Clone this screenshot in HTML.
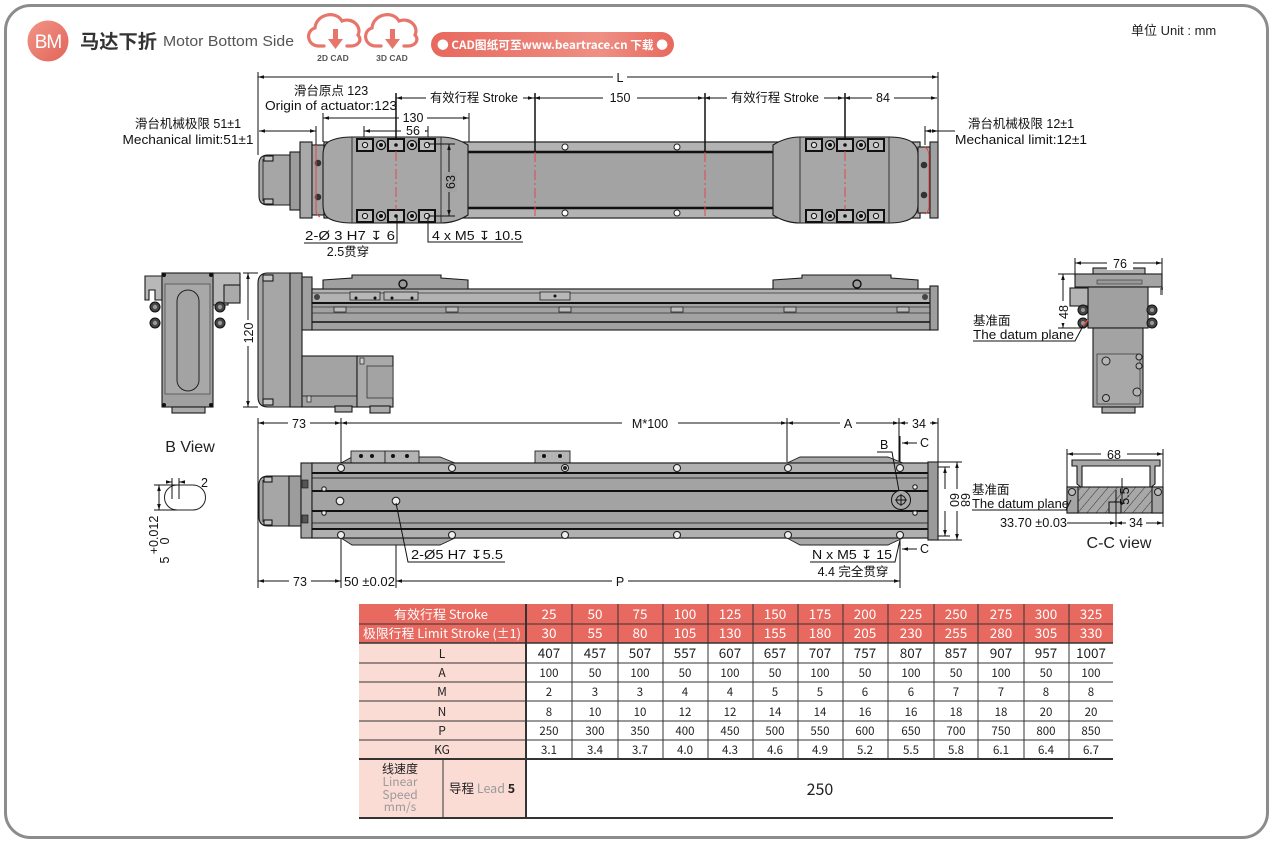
<!DOCTYPE html>
<html><head><meta charset="utf-8">
<style>
html,body{margin:0;padding:0;background:#fff;}
body{width:1274px;height:844px;overflow:hidden;}
svg{display:block}
.d{font-family:'Liberation Sans','Noto Sans CJK SC',sans-serif;font-size:12.5px;fill:#111}
.s{font-family:'Liberation Sans','Noto Sans CJK SC',sans-serif;}
.cj{font-family:'Noto Sans CJK SC','Liberation Sans',sans-serif;}
.ln{stroke:#111;stroke-width:1;fill:none}
.ol{stroke:#1a1a1a;stroke-width:1.1}
.rd{stroke:#e04848;stroke-width:1;stroke-dasharray:10 3 2 3;fill:none}
</style></head><body>
<svg width="1274" height="844" viewBox="0 0 1274 844" xmlns="http://www.w3.org/2000/svg">
<defs>
<marker id="a" viewBox="0 0 10 10" refX="10" refY="5" markerWidth="6" markerHeight="6" orient="auto-start-reverse"><path d="M0,2 L10,5 L0,8z" fill="#111"/></marker>
<linearGradient id="pg" x1="0" x2="1" y1="0" y2="0"><stop offset="0" stop-color="#e8685d"/><stop offset=".7" stop-color="#ee8f84"/><stop offset="1" stop-color="#e8685d"/></linearGradient>
<linearGradient id="bg" x1="0" x2="1" y1="0" y2="1"><stop offset="0" stop-color="#f29488"/><stop offset="1" stop-color="#e2655a"/></linearGradient>
<pattern id="h" width="7" height="7" patternUnits="userSpaceOnUse" patternTransform="rotate(40)"><rect width="7" height="7" fill="#a8a8a8"/><line x1="0" y1="0" x2="0" y2="7" stroke="#333" stroke-width="1"/></pattern>
</defs>

<!-- frame -->
<rect x="5.5" y="5.5" width="1262" height="832" rx="25" fill="#fff" stroke="#8c8c8c" stroke-width="3"/>

<!-- header -->
<circle cx="48" cy="41" r="20.5" fill="url(#bg)"/>
<text x="48" y="48" text-anchor="middle" class="s" font-size="19" fill="#fff" letter-spacing="-1">BM</text>
<text x="80" y="48" class="cj" font-size="19" font-weight="bold" fill="#333" textLength="77" lengthAdjust="spacingAndGlyphs">马达下折</text>
<text x="163" y="46" class="s" font-size="14.5" fill="#555" textLength="131" lengthAdjust="spacingAndGlyphs">Motor Bottom Side</text>
<g fill="none" stroke="#e8756b" stroke-width="3.2" stroke-linecap="round">
<path d="M324,46 H319 C307,46 305,31 315,28 C316,14 336,10 342,21 C353,17 362,27 358,35 C363,41 357,46 351,46 H347"/>
<path d="M381,46 H376 C364,46 362,31 372,28 C373,14 393,10 399,21 C410,17 419,27 415,35 C420,41 414,46 408,46 H404"/>
</g>
<g fill="#e8756b">
<rect x="333" y="29" width="5" height="11"/><path d="M328,39 H343 L335.5,49z"/>
<rect x="390" y="29" width="5" height="11"/><path d="M385,39 H400 L392.5,49z"/>
</g>
<text x="333" y="61" text-anchor="middle" class="s" font-size="8.5" font-weight="bold" fill="#555">2D CAD</text>
<text x="392" y="61" text-anchor="middle" class="s" font-size="8.5" font-weight="bold" fill="#555">3D CAD</text>
<rect x="431" y="32" width="243" height="25" rx="12.5" fill="url(#pg)"/>
<text x="437" y="49" class="cj" font-size="11.5" font-weight="bold" fill="#fff" textLength="231" lengthAdjust="spacingAndGlyphs">● CAD图纸可至www.beartrace.cn 下载 ●</text>
<text x="1131" y="35" class="s" font-size="13" fill="#222">单位  Unit : mm</text>

<!-- ================= TOP VIEW ================= -->
<g class="ln">
<line x1="258" y1="72" x2="258" y2="155"/>
<line x1="938" y1="72" x2="938" y2="142"/>
<line x1="258" y1="77" x2="938" y2="77" marker-start="url(#a)" marker-end="url(#a)"/>
<line x1="396" y1="98" x2="534" y2="98" marker-start="url(#a)" marker-end="url(#a)"/>
<line x1="534" y1="98" x2="704" y2="98" marker-start="url(#a)" marker-end="url(#a)"/>
<line x1="704" y1="98" x2="844" y2="98" marker-start="url(#a)" marker-end="url(#a)"/>
<line x1="844" y1="98" x2="937" y2="98" marker-start="url(#a)" marker-end="url(#a)"/>
<line x1="323" y1="118" x2="469" y2="118" marker-start="url(#a)" marker-end="url(#a)"/>
<line x1="364" y1="131" x2="428" y2="131" marker-start="url(#a)" marker-end="url(#a)"/>
<line x1="259" y1="131" x2="316" y2="131" marker-start="url(#a)" marker-end="url(#a)"/>
<line x1="925" y1="131" x2="938" y2="131" marker-start="url(#a)" marker-end="url(#a)"/>
<line x1="938" y1="131" x2="955" y2="131"/>
<line x1="323" y1="113" x2="323" y2="142"/>
<line x1="469" y1="113" x2="469" y2="143"/>
<line x1="364" y1="126" x2="364" y2="140"/>
<line x1="428" y1="126" x2="428" y2="140"/>
<line x1="316" y1="126" x2="316" y2="145"/>
<line x1="925" y1="126" x2="925" y2="145"/>
</g>
<rect x="613" y="70" width="14" height="14" fill="#fff"/><text x="620" y="82" text-anchor="middle" class="d">L</text>
<rect x="426" y="91" width="97" height="14" fill="#fff"/><text x="474" y="102" text-anchor="middle" class="d" textLength="88" lengthAdjust="spacingAndGlyphs">有效行程 Stroke</text>
<rect x="603" y="91" width="34" height="14" fill="#fff"/><text x="620" y="102" text-anchor="middle" class="d">150</text>
<rect x="727" y="91" width="97" height="14" fill="#fff"/><text x="775" y="102" text-anchor="middle" class="d" textLength="88" lengthAdjust="spacingAndGlyphs">有效行程 Stroke</text>
<rect x="872" y="91" width="22" height="14" fill="#fff"/><text x="883" y="102" text-anchor="middle" class="d">84</text>
<rect x="399" y="111" width="28" height="14" fill="#fff"/><text x="413" y="122" text-anchor="middle" class="d">130</text>
<rect x="401" y="124" width="24" height="14" fill="#fff"/><text x="413" y="135" text-anchor="middle" class="d">56</text>
<text x="331" y="95" text-anchor="middle" class="d">滑台原点 123</text>
<text x="265" y="110" class="d" textLength="132" lengthAdjust="spacingAndGlyphs">Origin of actuator:123</text>
<text x="188" y="128" text-anchor="middle" class="d">滑台机械极限 51±1</text>
<text x="188" y="144" text-anchor="middle" class="d" textLength="131" lengthAdjust="spacingAndGlyphs">Mechanical limit:51±1</text>
<text x="1021" y="128" text-anchor="middle" class="d">滑台机械极限 12±1</text>
<text x="1021" y="144" text-anchor="middle" class="d" textLength="132" lengthAdjust="spacingAndGlyphs">Mechanical limit:12±1</text>

<!-- body -->
<path d="M268,155 H290 V205 H268 Q259,205 259,196 V164 Q259,155 268,155Z" fill="#a6a6a6" class="ol"/>
<path d="M263,159 V201" stroke="#333" fill="none"/>
<rect x="264" y="156" width="9" height="5" fill="#c4c4c4" class="ol" stroke-width=".8"/>
<rect x="264" y="199" width="9" height="5" fill="#c4c4c4" class="ol" stroke-width=".8"/>
<rect x="290" y="152" width="10" height="58" fill="#9c9c9c" class="ol"/>
<rect x="300" y="142" width="12" height="76" fill="#a9a9a9" class="ol"/>
<rect x="312" y="145" width="12" height="70" fill="#a2a2a2" class="ol"/>
<circle cx="318" cy="163" r="3.3" fill="#333"/><circle cx="318" cy="197" r="3.3" fill="#333"/>
<path d="M316,145 V210 Q316,215 320,217" stroke="#e04848" fill="none"/>
<rect x="324" y="142" width="596" height="76" fill="#a3a3a3" class="ol"/>
<rect x="324" y="142" width="596" height="10" fill="#b3b3b3" class="ol"/>
<rect x="324" y="208" width="596" height="10" fill="#b3b3b3" class="ol"/>
<line x1="324" y1="152" x2="920" y2="152" stroke="#111" stroke-width="2.5"/>
<line x1="324" y1="208" x2="920" y2="208" stroke="#111" stroke-width="2.5"/>
<g fill="#fff" stroke="#222">
<circle cx="565" cy="147" r="3"/><circle cx="677" cy="147" r="3"/>
<circle cx="565" cy="213" r="3"/><circle cx="677" cy="213" r="3"/>
</g>
<rect x="918" y="147" width="12" height="66" fill="#a8a8a8" class="ol"/>
<rect x="930" y="142" width="8" height="76" fill="#a0a0a0" class="ol"/>
<circle cx="924" cy="165" r="3.3" fill="#333"/><circle cx="924" cy="195" r="3.3" fill="#333"/>
<path d="M925,147 Q929,150 929,156 V206 Q929,212 925,214" stroke="#e04848" fill="none"/>
<path d="M352,137 H441 C452,137 460,140 468,145 V215 C460,220 452,223 441,223 H352 C342,223 330,221 326,216 Q323,212 323,205 V155 Q323,148 326,144 C330,139 342,137 352,137Z" fill="#a7a7a7" class="ol"/>
<line x1="352" y1="137" x2="352" y2="223" stroke="#333"/>
<line x1="441" y1="137" x2="441" y2="223" stroke="#333"/>
<path d="M800,137 H889 C899,137 910,139 914,144 Q918,148 918,155 V205 Q918,212 914,216 C910,221 899,223 889,223 H800 C789,223 781,220 773,215 V145 C781,140 789,137 800,137Z" fill="#a7a7a7" class="ol"/>
<line x1="800" y1="137" x2="800" y2="223" stroke="#333"/>
<line x1="889" y1="137" x2="889" y2="223" stroke="#333"/>
<g fill="#bdbdbd" stroke="#111" stroke-width="2">
<rect x="357" y="139" width="16" height="12"/><rect x="388" y="139" width="16" height="12"/><rect x="419" y="139" width="16" height="12"/>
<rect x="357" y="210" width="16" height="12"/><rect x="388" y="210" width="16" height="12"/><rect x="419" y="210" width="16" height="12"/>
<rect x="806" y="139" width="16" height="12"/><rect x="837" y="139" width="16" height="12"/><rect x="868" y="139" width="16" height="12"/>
<rect x="806" y="210" width="16" height="12"/><rect x="837" y="210" width="16" height="12"/><rect x="868" y="210" width="16" height="12"/>
</g>
<g fill="#ddd" stroke="#111">
<circle cx="365" cy="145" r="2.6"/><circle cx="427" cy="145" r="2.6"/><circle cx="365" cy="216" r="2.6"/><circle cx="427" cy="216" r="2.6"/>
<circle cx="814" cy="145" r="2.6"/><circle cx="876" cy="145" r="2.6"/><circle cx="814" cy="216" r="2.6"/><circle cx="876" cy="216" r="2.6"/>
</g>
<g fill="#111"><circle cx="396" cy="145" r="1.8"/><circle cx="396" cy="216" r="1.8"/><circle cx="845" cy="145" r="1.8"/><circle cx="845" cy="216" r="1.8"/></g>
<g fill="#ccc" stroke="#111" stroke-width="1.3">
<circle cx="381" cy="145" r="4.5"/><circle cx="412" cy="145" r="4.5"/><circle cx="381" cy="216" r="4.5"/><circle cx="412" cy="216" r="4.5"/>
<circle cx="830" cy="145" r="4.5"/><circle cx="861" cy="145" r="4.5"/><circle cx="830" cy="216" r="4.5"/><circle cx="861" cy="216" r="4.5"/>
</g>
<g fill="#111"><circle cx="381" cy="145" r="2"/><circle cx="412" cy="145" r="2"/><circle cx="381" cy="216" r="2"/><circle cx="412" cy="216" r="2"/>
<circle cx="830" cy="145" r="2"/><circle cx="861" cy="145" r="2"/><circle cx="830" cy="216" r="2"/><circle cx="861" cy="216" r="2"/></g>
<line x1="396" y1="151" x2="396" y2="210" class="rd"/>
<line x1="535" y1="152" x2="535" y2="218" class="rd"/>
<line x1="705" y1="152" x2="705" y2="218" class="rd"/>
<line x1="845" y1="151" x2="845" y2="210" class="rd"/>
<g stroke="#111" stroke-width="1.5">
<line x1="396" y1="93" x2="396" y2="140"/>
<line x1="535" y1="93" x2="535" y2="152"/>
<line x1="705" y1="93" x2="705" y2="152"/>
<line x1="845" y1="93" x2="845" y2="140"/>
</g>
<g class="ln">
<line x1="428" y1="144" x2="455" y2="144"/>
<line x1="428" y1="216" x2="455" y2="216"/>
<line x1="449" y1="144" x2="449" y2="216" marker-start="url(#a)" marker-end="url(#a)"/>
<polyline points="397,216 397,243 304,243"/>
<polyline points="428,217 428,242 523,242"/>
</g>
<rect x="444" y="172" width="13" height="20" fill="#a3a3a3"/>
<text transform="translate(455,182) rotate(-90)" text-anchor="middle" class="d">63</text>
<text x="305" y="240" class="d" textLength="90" lengthAdjust="spacingAndGlyphs">2-Ø 3 H7 ↧ 6</text>
<text x="348" y="256" text-anchor="middle" class="d">2.5贯穿</text>
<text x="432" y="240" class="d" textLength="90" lengthAdjust="spacingAndGlyphs">4 x  M5 ↧ 10.5</text>

<!-- ================= SIDE VIEW ================= -->
<path d="M145,276 H162 V300 H155 V290 H149 V300 H145Z" fill="#b8b8b8" class="ol"/>
<path d="M213,273 H240 V296 H234 V286 H228 V305 H213Z" fill="#b8b8b8" class="ol"/>
<rect x="224" y="285" width="16" height="18" fill="#aaa" class="ol"/>
<rect x="162" y="273" width="51" height="134" fill="#a0a0a0" class="ol"/>
<rect x="165" y="284" width="45" height="110" fill="#a8a8a8" stroke="#444" stroke-width=".7"/>
<rect x="177" y="290" width="22" height="101" rx="11" fill="#a3a3a3" stroke="#222"/>
<g fill="#444" stroke="#111"><circle cx="155" cy="307" r="5"/><circle cx="155" cy="323" r="5"/><circle cx="220" cy="307" r="5"/><circle cx="220" cy="323" r="5"/></g>
<g fill="#999"><circle cx="155" cy="307" r="2.2"/><circle cx="155" cy="323" r="2.2"/><circle cx="220" cy="307" r="2.2"/><circle cx="220" cy="323" r="2.2"/></g>
<g fill="#111"><circle cx="164" cy="275" r="2"/><circle cx="211" cy="275" r="2"/><circle cx="164" cy="405" r="2"/><circle cx="211" cy="405" r="2"/></g>
<rect x="172" y="407" width="33" height="6" fill="#aaa" class="ol"/>
<text x="190" y="452" text-anchor="middle" class="s" font-size="16" fill="#222">B View</text>

<path d="M268,273 H290 V407 H268 Q258,407 258,397 V283 Q258,273 268,273Z" fill="#a6a6a6" class="ol"/>
<path d="M263,280 V400" stroke="#333" fill="none"/>
<rect x="263" y="275" width="10" height="6" fill="#c4c4c4" class="ol" stroke-width=".8"/>
<rect x="263" y="399" width="10" height="6" fill="#c4c4c4" class="ol" stroke-width=".8"/>
<rect x="290" y="273" width="12" height="134" fill="#9c9c9c" class="ol"/>
<rect x="302" y="277" width="10" height="53" fill="#a0a0a0" class="ol"/>
<rect x="302" y="356" width="55" height="51" fill="#a3a3a3" class="ol"/>
<line x1="302" y1="396" x2="357" y2="396" stroke="#333"/>
<rect x="357" y="356" width="36" height="51" fill="#a9a9a9" class="ol"/>
<rect x="367" y="366" width="26" height="32" fill="#a3a3a3" stroke="#333" stroke-width=".8"/>
<rect x="360" y="358" width="4" height="6" fill="#ccc" stroke="#222" stroke-width=".7"/>
<rect x="307" y="396" width="4" height="6" fill="#ccc" stroke="#222" stroke-width=".7"/>
<rect x="335" y="406" width="17" height="6" fill="#aaa" class="ol"/>
<rect x="370" y="406" width="20" height="7" fill="#aaa" class="ol"/>
<g class="ln">
<line x1="243" y1="273" x2="258" y2="273"/><line x1="243" y1="407" x2="258" y2="407"/>
<line x1="248" y1="273" x2="248" y2="407" marker-start="url(#a)" marker-end="url(#a)"/>
</g>
<rect x="242" y="320" width="12" height="26" fill="#fff"/>
<text transform="translate(253,333) rotate(-90)" text-anchor="middle" class="d">120</text>

<rect x="312" y="289" width="618" height="41" fill="#a2a2a2" class="ol"/>
<rect x="312" y="289" width="618" height="14" fill="#b2b2b2" class="ol"/>
<line x1="312" y1="293" x2="930" y2="293" stroke="#333" stroke-width=".8"/>
<line x1="312" y1="303" x2="930" y2="303" stroke="#111" stroke-width="2"/>
<line x1="312" y1="307" x2="930" y2="307" stroke="#333" stroke-width=".8"/>
<line x1="312" y1="313" x2="930" y2="313" stroke="#333" stroke-width=".8"/>
<line x1="312" y1="322" x2="930" y2="322" stroke="#111" stroke-width="1.6"/>
<g fill="#bcbcbc" stroke="#222" stroke-width=".8">
<rect x="334" y="307" width="12" height="5"/><rect x="446" y="307" width="12" height="5"/><rect x="559" y="307" width="12" height="5"/>
<rect x="671" y="307" width="12" height="5"/><rect x="784" y="307" width="12" height="5"/><rect x="897" y="307" width="12" height="5"/>
</g>
<rect x="930" y="286" width="8" height="44" fill="#9e9e9e" class="ol"/>
<circle cx="925" cy="297" r="3" fill="#444"/>
<circle cx="317" cy="297" r="3" fill="#444"/>
<path d="M323,289 V280 L352,278 V275 H441 V278 L468,280 V289Z" fill="#a0a0a0" class="ol"/>
<path d="M773,289 V280 L802,278 V275 H891 V278 L918,280 V289Z" fill="#a0a0a0" class="ol"/>
<circle cx="403" cy="284" r="4" fill="#999" stroke="#111" stroke-width="1.4"/>
<circle cx="857" cy="284" r="4" fill="#999" stroke="#111" stroke-width="1.4"/>
<g fill="#b8b8b8" stroke="#222" stroke-width=".8">
<rect x="350" y="292" width="30" height="8"/><rect x="384" y="292" width="34" height="8"/>
<rect x="540" y="292" width="30" height="8"/>
</g>
<g fill="#111"><circle cx="356" cy="298" r="1.5"/><circle cx="375" cy="298" r="1.5"/><circle cx="392" cy="298" r="1.5"/><circle cx="412" cy="298" r="1.5"/><circle cx="555" cy="296" r="1.5"/></g>

<!-- right end view -->
<rect x="1093" y="268" width="52" height="6" fill="#b0b0b0" class="ol"/>
<rect x="1075" y="274" width="87" height="13" fill="#a4a4a4" class="ol"/>
<rect x="1097" y="280" width="45" height="4" fill="#999" stroke="#333" stroke-width=".6"/>
<rect x="1088" y="287" width="60" height="41" fill="#a0a0a0" class="ol"/>
<rect x="1070" y="288" width="18" height="18" fill="#b4b4b4" class="ol"/>
<rect x="1160" y="287" width="3" height="8" fill="#888"/>
<g fill="#444" stroke="#111"><circle cx="1083" cy="310" r="5"/><circle cx="1083" cy="323" r="5"/><circle cx="1152" cy="310" r="5"/><circle cx="1152" cy="323" r="5"/></g>
<g fill="#999"><circle cx="1083" cy="310" r="2"/><circle cx="1083" cy="323" r="2"/><circle cx="1152" cy="310" r="2"/><circle cx="1152" cy="323" r="2"/></g>
<rect x="1093" y="328" width="50" height="79" fill="#a3a3a3" class="ol"/>
<rect x="1097" y="354" width="43" height="50" fill="#a8a8a8" stroke="#333" stroke-width=".7"/>
<g fill="#b5b5b5" stroke="#222"><circle cx="1106" cy="361" r="4"/><circle cx="1139" cy="357" r="3"/><circle cx="1139" cy="366" r="3"/><circle cx="1106" cy="398" r="3.5"/><circle cx="1137" cy="392" r="4"/></g>
<rect x="1102" y="407" width="33" height="6" fill="#aaa" class="ol"/>
<g class="ln">
<line x1="1075" y1="258" x2="1075" y2="277"/><line x1="1162" y1="258" x2="1162" y2="290"/>
<line x1="1075" y1="263" x2="1162" y2="263" marker-start="url(#a)" marker-end="url(#a)"/>
<line x1="1058" y1="274" x2="1075" y2="274"/><line x1="1058" y1="328" x2="1085" y2="328"/>
<line x1="1063" y1="274" x2="1063" y2="328" marker-start="url(#a)" marker-end="url(#a)"/>
<polyline points="973,341 1075,341 1083,326"/>
</g>
<rect x="1107" y="256" width="26" height="14" fill="#fff"/><text x="1120" y="268" text-anchor="middle" class="d">76</text>
<rect x="1057" y="301" width="12" height="22" fill="#fff"/>
<text transform="translate(1068,312) rotate(-90)" text-anchor="middle" class="d">48</text>
<line x1="1083" y1="326" x2="1088" y2="320" stroke="#e04848" stroke-width="1.5"/>
<text x="973" y="325" class="d">基准面</text>
<text x="973" y="339" class="d" textLength="101" lengthAdjust="spacingAndGlyphs">The datum plane</text>

<!-- ================= BOTTOM VIEW ================= -->
<g class="ln">
<line x1="258" y1="418" x2="258" y2="588"/>
<line x1="341" y1="418" x2="341" y2="470"/>
<line x1="787" y1="418" x2="787" y2="462"/>
<line x1="899" y1="418" x2="899" y2="470"/>
<line x1="938" y1="418" x2="938" y2="462"/>
<line x1="258" y1="423" x2="341" y2="423" marker-start="url(#a)" marker-end="url(#a)"/>
<line x1="341" y1="423" x2="787" y2="423" marker-start="url(#a)" marker-end="url(#a)"/>
<line x1="787" y1="423" x2="899" y2="423" marker-start="url(#a)" marker-end="url(#a)"/>
<line x1="899" y1="423" x2="938" y2="423" marker-start="url(#a)" marker-end="url(#a)"/>
<line x1="341" y1="538" x2="341" y2="588"/>
<line x1="396" y1="501" x2="396" y2="588"/>
<line x1="900" y1="540" x2="900" y2="588"/>
<line x1="258" y1="581" x2="341" y2="581" marker-start="url(#a)" marker-end="url(#a)"/>
<line x1="396" y1="581" x2="900" y2="581" marker-start="url(#a)" marker-end="url(#a)"/>
</g>
<rect x="288" y="416" width="22" height="14" fill="#fff"/><text x="299" y="428" text-anchor="middle" class="d">73</text>
<rect x="622" y="416" width="56" height="14" fill="#fff"/><text x="650" y="428" text-anchor="middle" class="d">M*100</text>
<rect x="840" y="416" width="16" height="14" fill="#fff"/><text x="848" y="428" text-anchor="middle" class="d">A</text>
<rect x="908" y="416" width="22" height="14" fill="#fff"/><text x="919" y="428" text-anchor="middle" class="d">34</text>
<rect x="289" y="574" width="22" height="14" fill="#fff"/><text x="300" y="586" text-anchor="middle" class="d">73</text>
<text x="344" y="586" class="d" textLength="51" lengthAdjust="spacingAndGlyphs">50 ±0.02</text>
<rect x="612" y="574" width="16" height="14" fill="#fff"/><text x="620" y="586" text-anchor="middle" class="d">P</text>

<path d="M268,476 H289 V526 H268 Q259,526 259,517 V485 Q259,476 268,476Z" fill="#a6a6a6" class="ol"/>
<path d="M263,480 V522" stroke="#333" fill="none"/>
<rect x="264" y="477" width="8" height="5" fill="#c4c4c4" class="ol" stroke-width=".8"/>
<rect x="264" y="520" width="8" height="5" fill="#c4c4c4" class="ol" stroke-width=".8"/>
<rect x="289" y="476" width="12" height="50" fill="#9c9c9c" class="ol"/>
<rect x="301" y="463" width="11" height="75" fill="#a5a5a5" class="ol"/>
<rect x="302" y="480" width="6" height="8" fill="#555" stroke="#111" stroke-width=".6"/>
<rect x="302" y="515" width="6" height="8" fill="#555" stroke="#111" stroke-width=".6"/>
<g fill="#a8a8a8" stroke="#222" stroke-width=".9">
<path d="M341,463 L352,457 H440 L455,463Z"/>
<path d="M787,463 L800,457 H888 L903,463Z"/>
<path d="M341,538 L352,545 H440 L455,538Z"/>
<path d="M787,538 L800,545 H888 L903,538Z"/>
</g>
<g fill="#b4b4b4" stroke="#222" stroke-width=".9">
<rect x="351" y="451" width="34" height="12"/><rect x="385" y="451" width="34" height="12"/>
<rect x="535" y="451" width="35" height="12"/>
</g>
<g fill="#111"><circle cx="361" cy="456" r="2"/><circle cx="372" cy="456" r="2"/><circle cx="393" cy="456" r="2"/><circle cx="407" cy="456" r="2"/><circle cx="544" cy="456" r="2"/><circle cx="560" cy="456" r="2"/></g>
<rect x="312" y="463" width="616" height="75" fill="#a3a3a3" class="ol"/>
<rect x="312" y="463" width="616" height="10" fill="#b0b0b0" class="ol"/>
<rect x="312" y="529" width="616" height="9" fill="#b0b0b0" class="ol"/>
<g stroke="#111">
<line x1="312" y1="473" x2="928" y2="473" stroke-width="2"/>
<line x1="312" y1="478" x2="928" y2="478" stroke-width=".8"/>
<line x1="312" y1="491" x2="928" y2="491" stroke-width="2"/>
<line x1="312" y1="511" x2="928" y2="511" stroke-width="2"/>
<line x1="312" y1="523" x2="928" y2="523" stroke-width=".8"/>
<line x1="312" y1="529" x2="928" y2="529" stroke-width="2"/>
</g>
<rect x="928" y="462" width="10" height="78" fill="#9a9a9a" class="ol"/>
<g fill="#eee" stroke="#222" stroke-width="1.1">
<circle cx="341" cy="468" r="3.5"/><circle cx="452" cy="468" r="3.5"/><circle cx="565" cy="468" r="3.5"/><circle cx="677" cy="468" r="3.5"/><circle cx="788" cy="468" r="3.5"/><circle cx="900" cy="468" r="3.5"/>
<circle cx="341" cy="535" r="3.5"/><circle cx="452" cy="535" r="3.5"/><circle cx="565" cy="535" r="3.5"/><circle cx="677" cy="535" r="3.5"/><circle cx="788" cy="535" r="3.5"/><circle cx="900" cy="535" r="3.5"/>
<circle cx="340" cy="501" r="3.8"/><circle cx="396" cy="501" r="3.8"/>
<circle cx="324" cy="489" r="2.2"/><circle cx="324" cy="513" r="2.2"/>
<circle cx="915" cy="487" r="2.2"/><circle cx="915" cy="513" r="2.2"/>
</g>
<circle cx="565" cy="468" r="2" fill="#222"/>
<circle cx="901" cy="500" r="9.5" fill="#a8a8a8" stroke="#111"/>
<circle cx="901" cy="500" r="4.5" fill="none" stroke="#111"/>
<path d="M895,500 H907 M901,494 V506" stroke="#111"/>
<g class="ln">
<line x1="938" y1="467" x2="950" y2="467"/><line x1="938" y1="536" x2="950" y2="536"/>
<line x1="938" y1="462" x2="962" y2="462"/><line x1="938" y1="540" x2="962" y2="540"/>
<line x1="945" y1="467" x2="945" y2="536" marker-start="url(#a)" marker-end="url(#a)"/>
<line x1="957" y1="462" x2="957" y2="540" marker-start="url(#a)" marker-end="url(#a)"/>
</g>
<rect x="940" y="489" width="24" height="22" fill="#fff"/>
<text transform="translate(950,500) rotate(90)" text-anchor="middle" class="d">60</text>
<text transform="translate(961,500) rotate(90)" text-anchor="middle" class="d">68</text>
<text x="880" y="449" class="d">B</text>
<polyline points="877,452 892,452 899,491" class="ln"/>
<line x1="900" y1="436" x2="900" y2="462" class="ln"/>
<line x1="917" y1="443" x2="902" y2="443" class="ln" marker-end="url(#a)"/>
<text x="920" y="447" class="d">C</text>
<line x1="900" y1="540" x2="900" y2="556" class="ln"/>
<line x1="917" y1="549" x2="902" y2="549" class="ln" marker-end="url(#a)"/>
<text x="920" y="553" class="d">C</text>
<polyline points="396,503 408,562 505,562" class="ln"/>
<text x="411" y="559" class="d" textLength="92" lengthAdjust="spacingAndGlyphs">2-Ø5 H7 ↧5.5</text>
<polyline points="810,562 895,562 900,540" class="ln"/>
<text x="812" y="559" class="d" textLength="80" lengthAdjust="spacingAndGlyphs">N x M5 ↧ 15</text>
<text x="853" y="576" text-anchor="middle" class="d">4.4 完全贯穿</text>

<path d="M177,485 H193 A12.5,12.5 0 0 1 193,510 H177 A12.5,12.5 0 0 1 177,485Z" fill="#fff" stroke="#222"/>
<g class="ln">
<line x1="172" y1="478" x2="172" y2="499"/><line x1="179" y1="478" x2="179" y2="499"/>
<line x1="166" y1="482" x2="172" y2="482" marker-end="url(#a)"/>
<line x1="185" y1="482" x2="179" y2="482" marker-end="url(#a)"/>
<line x1="154" y1="485" x2="177" y2="485"/><line x1="154" y1="510" x2="177" y2="510"/>
<line x1="159" y1="485" x2="159" y2="510" marker-start="url(#a)" marker-end="url(#a)"/>
</g>
<text x="201" y="487" class="d">2</text>
<text transform="translate(158,535) rotate(-90)" text-anchor="middle" class="d" font-size="11.5">+0.012</text>
<text transform="translate(169,541) rotate(-90)" text-anchor="middle" class="d" font-size="11.5">0</text>
<text transform="translate(169,560) rotate(-90)" text-anchor="middle" class="d" font-size="11.5">5</text>

<!-- C-C view -->
<g class="ln">
<line x1="1067" y1="449" x2="1067" y2="490"/><line x1="1163" y1="449" x2="1163" y2="490"/>
<line x1="1067" y1="454" x2="1163" y2="454" marker-start="url(#a)" marker-end="url(#a)"/>
</g>
<rect x="1101" y="447" width="26" height="14" fill="#fff"/><text x="1114" y="459" text-anchor="middle" class="d">68</text>
<path d="M1072,460 H1160 V466 H1155 V484 L1150,488 V466 H1082 V488 L1077,484 V466 H1072Z" fill="#a8a8a8" class="ol"/>
<rect x="1067" y="487" width="96" height="26" fill="url(#h)" class="ol"/>
<rect x="1067" y="487" width="11" height="26" fill="#a5a5a5" class="ol"/>
<rect x="1152" y="487" width="11" height="26" fill="#a5a5a5" class="ol"/>
<circle cx="1072" cy="492" r="3.5" fill="#bbb" stroke="#222"/><circle cx="1158" cy="492" r="3.5" fill="#bbb" stroke="#222"/>
<rect x="1109" y="502" width="12" height="11" fill="#a5a5a5" class="ol"/>
<line x1="1122" y1="478" x2="1122" y2="505" class="ln"/>
<text transform="translate(1129,496) rotate(-90)" text-anchor="middle" class="d" font-size="10">5.5</text>
<g class="ln">
<line x1="1116" y1="490" x2="1116" y2="527"/>
<line x1="1067" y1="523" x2="1116" y2="523" marker-end="url(#a)"/>
<line x1="1116" y1="523" x2="1163" y2="523" marker-start="url(#a)" marker-end="url(#a)"/>
<line x1="1163" y1="513" x2="1163" y2="527"/>
<polyline points="972,510 1066,510 1071,500"/>
</g>
<rect x="1126" y="516" width="20" height="14" fill="#fff"/><text x="1136" y="527" text-anchor="middle" class="d">34</text>
<text x="1000" y="527" class="d" textLength="67" lengthAdjust="spacingAndGlyphs">33.70 ±0.03</text>
<text x="972" y="494" class="d">基准面</text>
<text x="972" y="508" class="d" textLength="97" lengthAdjust="spacingAndGlyphs">The datum plane</text>
<text x="1119" y="548" text-anchor="middle" class="s" font-size="16" fill="#222">C-C view</text>

<!-- ================= TABLE ================= -->
<rect x="359" y="604" width="754" height="39" fill="#e8695f"/>
<rect x="359" y="643" width="167" height="175" fill="#fbdcd5"/>
<g stroke="#333" stroke-width="1">
<line x1="359" y1="624" x2="1113" y2="624"/>
<line x1="359" y1="643" x2="1113" y2="643" stroke-width="1.5"/>
<line x1="359" y1="663" x2="1113" y2="663"/>
<line x1="359" y1="682" x2="1113" y2="682"/>
<line x1="359" y1="701" x2="1113" y2="701"/>
<line x1="359" y1="721" x2="1113" y2="721"/>
<line x1="359" y1="740" x2="1113" y2="740"/>
<line x1="359" y1="759" x2="1113" y2="759" stroke-width="2"/>
<line x1="359" y1="818" x2="1113" y2="818" stroke-width="2"/>
<line x1="526" y1="604" x2="526" y2="818" stroke-width="2"/>
<line x1="443" y1="759" x2="443" y2="818"/>
<line x1="572" y1="604" x2="572" y2="759"/><line x1="618" y1="604" x2="618" y2="759"/>
<line x1="663" y1="604" x2="663" y2="759"/><line x1="708" y1="604" x2="708" y2="759"/>
<line x1="753" y1="604" x2="753" y2="759"/><line x1="798" y1="604" x2="798" y2="759"/>
<line x1="843" y1="604" x2="843" y2="759"/><line x1="888" y1="604" x2="888" y2="759"/>
<line x1="934" y1="604" x2="934" y2="759"/><line x1="978" y1="604" x2="978" y2="759"/>
<line x1="1024" y1="604" x2="1024" y2="759"/><line x1="1069" y1="604" x2="1069" y2="759"/>
</g>
<g class="cj" fill="#fff" font-size="12.5" text-anchor="middle">
<text x="441" y="619" textLength="94" lengthAdjust="spacingAndGlyphs">有效行程  Stroke</text>
<text x="442" y="638" textLength="158" lengthAdjust="spacingAndGlyphs">极限行程  Limit Stroke (±1)</text>
</g>
<g class="cj" fill="#fff" font-size="13.5" text-anchor="middle">
<text x="549" y="619">25</text><text x="595" y="619">50</text><text x="640" y="619">75</text><text x="685" y="619">100</text><text x="730" y="619">125</text><text x="775" y="619">150</text><text x="820" y="619">175</text><text x="865" y="619">200</text><text x="911" y="619">225</text><text x="956" y="619">250</text><text x="1001" y="619">275</text><text x="1046" y="619">300</text><text x="1091" y="619">325</text>
<text x="549" y="638">30</text><text x="595" y="638">55</text><text x="640" y="638">80</text><text x="685" y="638">105</text><text x="730" y="638">130</text><text x="775" y="638">155</text><text x="820" y="638">180</text><text x="865" y="638">205</text><text x="911" y="638">230</text><text x="956" y="638">255</text><text x="1001" y="638">280</text><text x="1046" y="638">305</text><text x="1091" y="638">330</text>
</g>
<g class="cj" fill="#222" font-size="12" text-anchor="middle">
<text x="442" y="658">L</text><text x="442" y="677">A</text><text x="442" y="696">M</text><text x="442" y="716">N</text><text x="442" y="735">P</text><text x="442" y="754">KG</text>
</g>
<g class="cj" fill="#222" font-size="13.5" text-anchor="middle">
<text x="549" y="658">407</text><text x="595" y="658">457</text><text x="640" y="658">507</text><text x="685" y="658">557</text><text x="730" y="658">607</text><text x="775" y="658">657</text><text x="820" y="658">707</text><text x="865" y="658">757</text><text x="911" y="658">807</text><text x="956" y="658">857</text><text x="1001" y="658">907</text><text x="1046" y="658">957</text><text x="1091" y="658">1007</text>
</g>
<g class="cj" fill="#222" font-size="11.5" text-anchor="middle">
<text x="549" y="677">100</text><text x="595" y="677">50</text><text x="640" y="677">100</text><text x="685" y="677">50</text><text x="730" y="677">100</text><text x="775" y="677">50</text><text x="820" y="677">100</text><text x="865" y="677">50</text><text x="911" y="677">100</text><text x="956" y="677">50</text><text x="1001" y="677">100</text><text x="1046" y="677">50</text><text x="1091" y="677">100</text>
<text x="549" y="696">2</text><text x="595" y="696">3</text><text x="640" y="696">3</text><text x="685" y="696">4</text><text x="730" y="696">4</text><text x="775" y="696">5</text><text x="820" y="696">5</text><text x="865" y="696">6</text><text x="911" y="696">6</text><text x="956" y="696">7</text><text x="1001" y="696">7</text><text x="1046" y="696">8</text><text x="1091" y="696">8</text>
<text x="549" y="716">8</text><text x="595" y="716">10</text><text x="640" y="716">10</text><text x="685" y="716">12</text><text x="730" y="716">12</text><text x="775" y="716">14</text><text x="820" y="716">14</text><text x="865" y="716">16</text><text x="911" y="716">16</text><text x="956" y="716">18</text><text x="1001" y="716">18</text><text x="1046" y="716">20</text><text x="1091" y="716">20</text>
<text x="549" y="735">250</text><text x="595" y="735">300</text><text x="640" y="735">350</text><text x="685" y="735">400</text><text x="730" y="735">450</text><text x="775" y="735">500</text><text x="820" y="735">550</text><text x="865" y="735">600</text><text x="911" y="735">650</text><text x="956" y="735">700</text><text x="1001" y="735">750</text><text x="1046" y="735">800</text><text x="1091" y="735">850</text>
<text x="549" y="754">3.1</text><text x="595" y="754">3.4</text><text x="640" y="754">3.7</text><text x="685" y="754">4.0</text><text x="730" y="754">4.3</text><text x="775" y="754">4.6</text><text x="820" y="754">4.9</text><text x="865" y="754">5.2</text><text x="911" y="754">5.5</text><text x="956" y="754">5.8</text><text x="1001" y="754">6.1</text><text x="1046" y="754">6.4</text><text x="1091" y="754">6.7</text>
</g>
<g class="cj" font-size="12" text-anchor="middle">
<text x="400" y="773" fill="#222">线速度</text>
<text x="400" y="786" fill="#9a9a9a">Linear</text>
<text x="400" y="799" fill="#9a9a9a">Speed</text>
<text x="400" y="811" fill="#9a9a9a">mm/s</text>
</g>
<text x="449" y="793" class="cj" font-size="12.5" fill="#222">导程 <tspan fill="#9a9a9a">Lead</tspan> <tspan font-weight="bold">5</tspan></text>
<text x="820" y="795" text-anchor="middle" class="cj" font-size="16" fill="#222">250</text>
</svg>
</body></html>
